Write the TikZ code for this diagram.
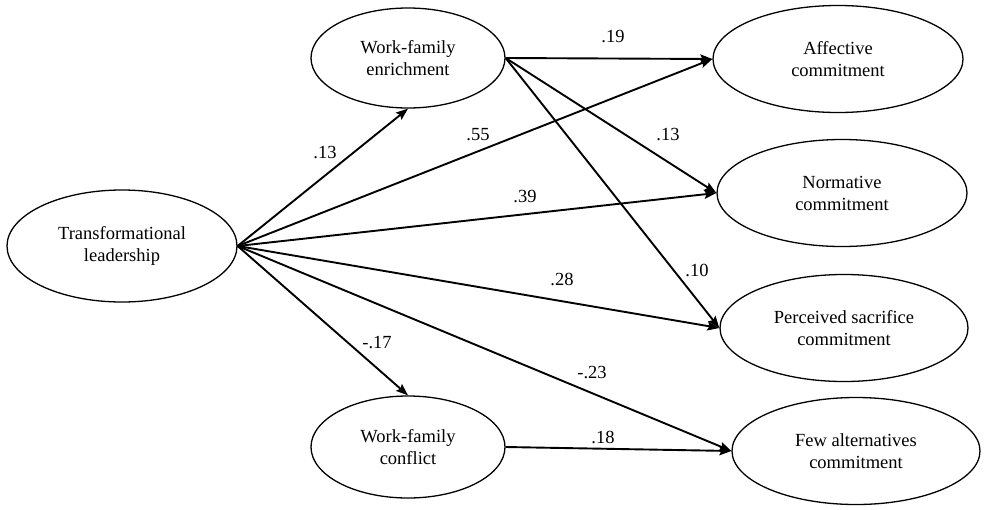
\documentclass[tikz,border=0pt]{standalone}
\usepackage{fontspec}
\setmainfont{Liberation Serif}
\usetikzlibrary{shapes.geometric,arrows.meta}
\begin{document}
\begin{tikzpicture}[x=1pt,y=-1pt,
  var/.style={draw=black,line width=1.3pt,ellipse,inner sep=0pt,align=center,
    font=\rmfamily\fontsize{18.5}{22}\selectfont},
  path/.style={draw=black,line width=1.9pt,-{Stealth[length=12pt,width=9pt,inset=2pt]}},
  coef/.style={font=\rmfamily\fontsize{18.5}{22}\selectfont,inner sep=0pt}]
\useasboundingbox[fill=white] (0,0) rectangle (1001,509);
\node[var,minimum width=230pt,minimum height=112pt] (tl) at (122,246) {Transformational\\leadership};
\node[var,minimum width=194pt,minimum height=100pt] (wfe) at (408,58) {Work-family\\enrichment};
\node[var,minimum width=194pt,minimum height=102pt] (wfc) at (408,447) {Work-family\\conflict};
\node[var,minimum width=250pt,minimum height=107pt] (aff) at (838,59) {Affective\\commitment};
\node[var,minimum width=250pt,minimum height=107pt] (norm) at (842,193) {Normative\\commitment};
\node[var,minimum width=248pt,minimum height=107pt] (perc) at (844,328) {Perceived sacrifice\\commitment};
\node[var,minimum width=248pt,minimum height=107pt] (few) at (856,451) {Few alternatives\\commitment};

\draw[path] (tl.east) -- (wfe.south);
\draw[path] (tl.east) -- (wfc.north);
\draw[path] (tl.east) -- (aff.west);
\draw[path] (tl.east) -- (norm.west);
\draw[path] (tl.east) -- (perc.west);
\draw[path] (tl.east) -- (few.west);
\draw[path] (wfe.east) -- (aff.west);
\draw[path] (wfe.east) -- (norm.west);
\draw[path] (wfe.east) -- (perc.west);
\draw[path] (wfc.east) -- (few.west);

\node[coef] (l1) at (325,153) {.13};
\node[coef] (l2) at (478,135) {.55};
\node[coef] (l3) at (613,37) {.19};
\node[coef] (l4) at (668,135) {.13};
\node[coef] (l5) at (525,197) {.39};
\node[coef] (l6) at (697,270) {.10};
\node[coef] (l7) at (562,279) {.28};
\node[coef] (l8) at (377,343) {-.17};
\node[coef] (l9) at (592,372) {-.23};
\node[coef] (l10) at (603,437) {.18};
\end{tikzpicture}
\end{document}
